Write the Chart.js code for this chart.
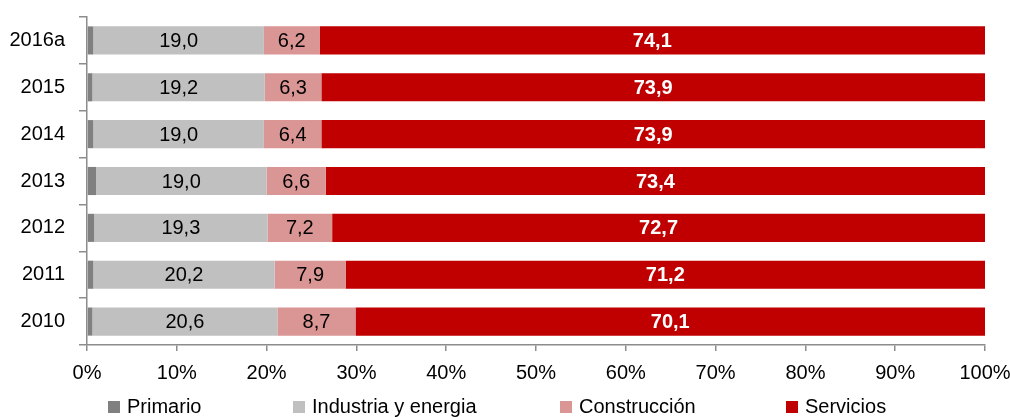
<!DOCTYPE html>
<html>
<head>
<meta charset="utf-8">
<script src="https://cdn.jsdelivr.net/npm/chart.js@4.4.1/dist/chart.umd.min.js"></script>
<style>
  html, body { margin: 0; padding: 0; background: #fff; }
  #wrap { position: relative; width: 1010px; height: 417px; }
  #legend { position: absolute; left: 0; top: 396px; width: 1010px; height: 21px;
            font-family: "Liberation Sans Narrow", "Arial Narrow", "Liberation Sans", sans-serif;
            font-size: 20px; color: #000; }
  .item { position: absolute; top: 0; display: flex; align-items: center; height: 21px; white-space: nowrap; }
  .box { width: 12px; height: 12px; margin-right: 7px; }
</style>
</head>
<body>
<div id="wrap">
  <canvas id="chart" width="1010" height="417"></canvas>
  <div id="legend"></div>
</div>
<script>
const years = ['2016a', '2015', '2014', '2013', '2012', '2011', '2010'];
const primario = [0.7, 0.6, 0.7, 1.0, 0.8, 0.7, 0.6];
const industria = [19.0, 19.2, 19.0, 19.0, 19.3, 20.2, 20.6];
const construccion = [6.2, 6.3, 6.4, 6.6, 7.2, 7.9, 8.7];
const servicios = [74.1, 73.9, 73.9, 73.4, 72.7, 71.2, 70.1];
const xTicks = [0, 10, 20, 30, 40, 50, 60, 70, 80, 90, 100];

const FONT = '"Liberation Sans Narrow", "Arial Narrow", "Liberation Sans", sans-serif';

const series = [
    { label: 'Primario', data: primario, color: '#808080', showLabel: false },
    { label: 'Industria y energia', data: industria, color: '#c0c0c0', showLabel: true, textColor: '#000', bold: false },
    { label: 'Construcción', data: construccion, color: '#da9694', showLabel: true, textColor: '#000', bold: false },
    { label: 'Servicios', data: servicios, color: '#c00000', showLabel: true, textColor: '#fff', bold: true }
];

// etiquetas dentro de las barras
const valueLabels = {
    id: 'valueLabels',
    afterDatasetsDraw(chart) {
        const ctx = chart.ctx;
        ctx.save();
        ctx.textAlign = 'center';
        ctx.textBaseline = 'middle';
        chart.data.datasets.forEach((ds, i) => {
            const s = series[i];
            if (!s.showLabel) return;
            ctx.font = (s.bold ? 'bold ' : '') + '20px ' + FONT;
            ctx.fillStyle = s.textColor;
            chart.getDatasetMeta(i).data.forEach((bar, j) => {
                const cx = (bar.x + bar.base) / 2;
                ctx.fillText(ds.data[j].toFixed(1).replace('.', ','), cx, bar.y + 1);
            });
        });
        ctx.restore();
    }
};

new Chart(document.getElementById('chart'), {
    type: 'bar',
    data: {
        labels: years,
        datasets: series.map(s => ({
            label: s.label,
            data: s.data,
            backgroundColor: s.color,
            borderWidth: 0,
            categoryPercentage: 1,
            barPercentage: 0.6
        }))
    },
    options: {
        indexAxis: 'y',
        responsive: false,
        animation: false,
        layout: { padding: { top: 17, right: 25, bottom: 27, left: 0 } },
        plugins: {
            legend: { display: false },
            tooltip: { enabled: false }
        },
        scales: {
            x: {
                stacked: true,
                min: 0,
                max: 100,
                afterBuildTicks: axis => { axis.ticks = xTicks.map(v => ({ value: v })); },
                afterFit: axis => { axis.height = 45; axis.paddingLeft = 0; axis.paddingRight = 0; },
                border: { color: '#8c8c8c', width: 1.5 },
                grid: { drawOnChartArea: false, drawTicks: true, tickLength: 6, color: '#8c8c8c', lineWidth: 1.5 },
                ticks: {
                    padding: 10,
                    color: '#000',
                    font: { family: FONT, size: 20 },
                    maxRotation: 0,
                    callback: v => v + '%'
                }
            },
            y: {
                stacked: true,
                afterFit: axis => { axis.width = 87; axis.paddingTop = 0; axis.paddingBottom = 0; },
                border: { color: '#8c8c8c', width: 1.5 },
                grid: { offset: true, drawOnChartArea: false, drawTicks: true, tickLength: 8, color: '#8c8c8c', lineWidth: 1.5 },
                ticks: {
                    padding: 14,
                    color: '#000',
                    font: { family: FONT, size: 20 }
                }
            }
        }
    },
    plugins: [valueLabels]
});

// leyenda
const legendX = [108, 293, 560, 786];
const legend = document.getElementById('legend');
series.forEach((s, i) => {
    const item = document.createElement('div');
    item.className = 'item';
    item.style.left = legendX[i] + 'px';
    item.innerHTML = `<span class="box" style="background:${s.color}"></span><span>${s.label}</span>`;
    legend.appendChild(item);
});
</script>
</body>
</html>
